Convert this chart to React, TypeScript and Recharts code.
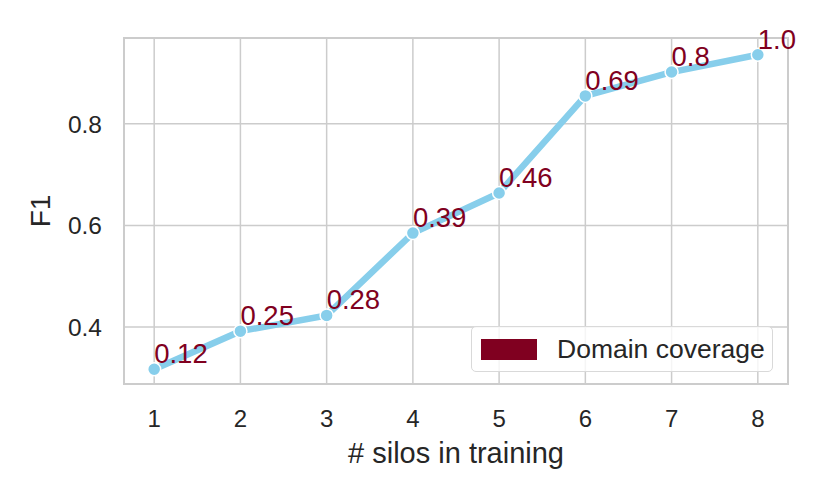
import React from "react"
import {
  LineChart,
  Line,
  XAxis,
  YAxis,
  CartesianGrid,
  LabelList,
  ReferenceArea,
} from "recharts"

const silos = [1, 2, 3, 4, 5, 6, 7, 8]
const f1Scores = [0.317, 0.392, 0.423, 0.585, 0.664, 0.855, 0.902, 0.936]
const coverageLabels = ["0.12", "0.25", "0.28", "0.39", "0.46", "0.69", "0.8", "1.0"]
const yTicks = [0.4, 0.6, 0.8]

const data = silos.map((s, i) => ({ silos: s, f1: f1Scores[i], coverage: coverageLabels[i] }))

const X_DOMAIN: [number, number] = [0.65, 8.35]
const Y_DOMAIN: [number, number] = [0.288, 0.969]

const FONT = "'Liberation Sans', Arial, Helvetica, sans-serif"
const TEXT = "#262626"
const MAROON = "#800020"
const LINE = "#87ceeb"
const GRID = "#cccccc"

const CoverageLabel = (props: any) => {
  const { x, y, value } = props
  return (
    <text x={x} y={y - 6} fill={MAROON} fontSize={27.5} fontFamily={FONT} textAnchor="start">
      {value}
    </text>
  )
}

// rotated y label, centred on the plot height
const YLabel = (props: any) => {
  const vb = props.viewBox || {}
  const cx = (vb.x || 0) + 40
  const cy = (vb.y || 0) + (vb.height || 0) / 2
  return (
    <text
      x={cx}
      y={cy}
      transform={`rotate(-90, ${cx}, ${cy})`}
      textAnchor="middle"
      dominantBaseline="central"
      fill={TEXT}
      fontSize={28}
      fontFamily={FONT}
    >
      F1
    </text>
  )
}

// legend drawn as an overlay so it doesn't eat plot space
const LegendBox = () => (
  <div
    style={{
      position: "absolute",
      left: 471,
      top: 326,
      width: 302,
      height: 46,
      boxSizing: "border-box",
      border: "1.5px solid #d9d9d9",
      borderRadius: 5,
      background: "rgba(255,255,255,0.8)",
      display: "flex",
      alignItems: "center",
      fontFamily: FONT,
      fontSize: 26.5,
      color: TEXT,
    }}
  >
    <span style={{ display: "inline-block", width: 56, height: 21, background: MAROON, marginLeft: 9, marginRight: 20 }} />
    <span>Domain coverage</span>
  </div>
)

export default function App() {
  return (
    <div style={{ position: "absolute", left: 0, top: 0, width: 830, height: 498, background: "#fff" }}>
      <LineChart width={830} height={498} data={data} margin={{ top: 38, right: 42, left: 0, bottom: 0 }}>
        <CartesianGrid stroke={GRID} strokeWidth={1.5} />
        <ReferenceArea
          x1={X_DOMAIN[0]}
          x2={X_DOMAIN[1]}
          y1={Y_DOMAIN[0]}
          y2={Y_DOMAIN[1]}
          fill="none"
          stroke={GRID}
          strokeWidth={2}
        />
        <XAxis
          dataKey="silos"
          type="number"
          domain={X_DOMAIN}
          ticks={silos}
          allowDataOverflow
          height={114}
          axisLine={false}
          tickLine={false}
          tickSize={0}
          tickMargin={26}
          tick={{ fill: TEXT, fontSize: 24, fontFamily: FONT }}
          label={{
            value: "# silos in training",
            position: "insideBottom",
            offset: 35,
            fill: TEXT,
            fontSize: 29,
            fontFamily: FONT,
          }}
        />
        <YAxis
          type="number"
          domain={Y_DOMAIN}
          ticks={yTicks}
          allowDataOverflow
          width={124}
          axisLine={false}
          tickLine={false}
          tickSize={0}
          tickMargin={22}
          tickFormatter={(v: number) => v.toFixed(1)}
          tick={{ fill: TEXT, fontSize: 24.5, fontFamily: FONT }}
          label={<YLabel />}
        />
        <Line
          dataKey="f1"
          stroke={LINE}
          strokeWidth={6.5}
          dot={{ r: 6.5, fill: LINE, stroke: "#fff", strokeWidth: 1.5 }}
          isAnimationActive={false}
        >
          <LabelList dataKey="coverage" content={<CoverageLabel />} />
        </Line>
      </LineChart>
      <LegendBox />
    </div>
  )
}
